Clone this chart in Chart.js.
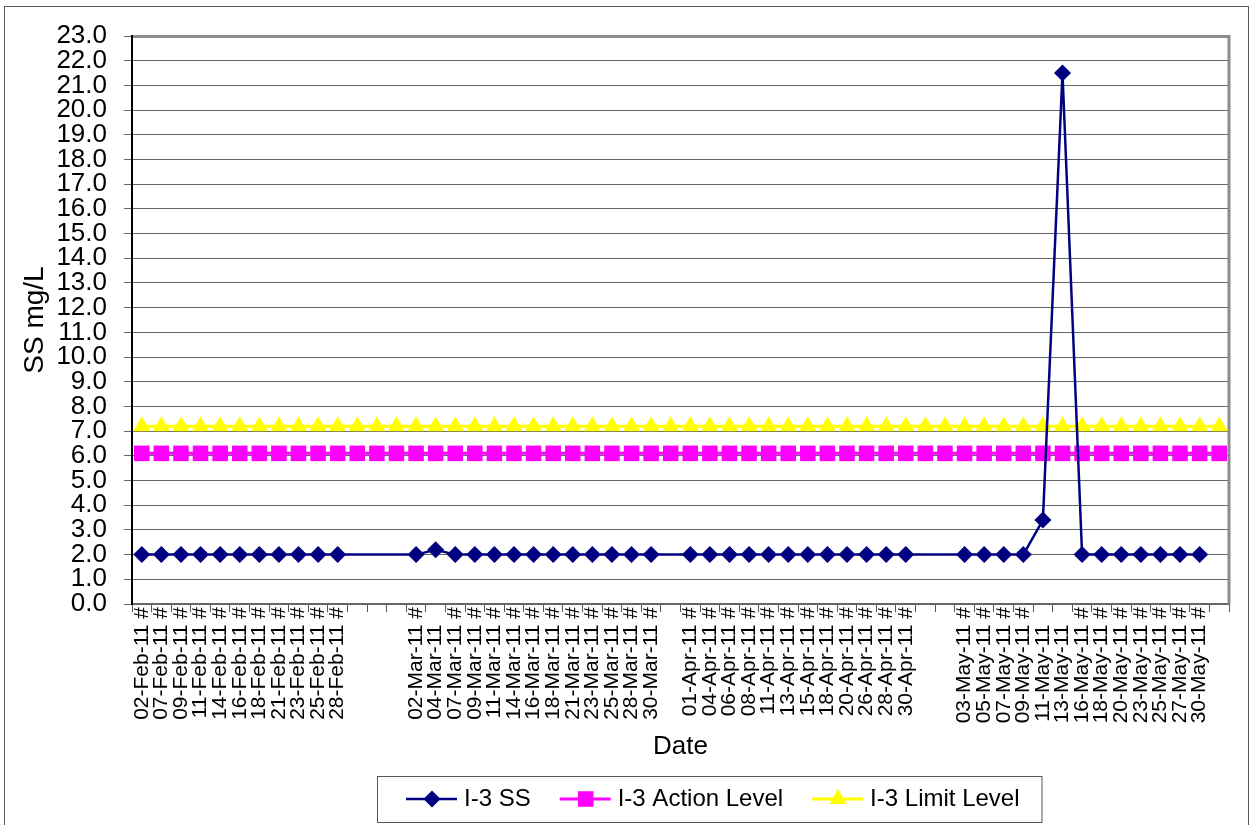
<!DOCTYPE html>
<html>
<head>
<meta charset="utf-8">
<title>I-3 SS</title>
<script src="https://cdn.jsdelivr.net/npm/chart.js@4/dist/chart.umd.min.js"></script>
<style>
    body { margin: 0; background: #fff; }
    canvas { display: block; }
</style>
</head>
<body>
<canvas id="ssChart" width="1251" height="825"></canvas>
<script>
// sampling dates (blank = no sampling, the category still exists on the axis)
const dates = [
    '02-Feb-11', '07-Feb-11', '09-Feb-11', '11-Feb-11', '14-Feb-11', '16-Feb-11',
    '18-Feb-11', '21-Feb-11', '23-Feb-11', '25-Feb-11', '28-Feb-11', '', '', '',
    '02-Mar-11', '04-Mar-11', '07-Mar-11', '09-Mar-11', '11-Mar-11', '14-Mar-11',
    '16-Mar-11', '18-Mar-11', '21-Mar-11', '23-Mar-11', '25-Mar-11', '28-Mar-11',
    '30-Mar-11', '',
    '01-Apr-11', '04-Apr-11', '06-Apr-11', '08-Apr-11', '11-Apr-11', '13-Apr-11',
    '15-Apr-11', '18-Apr-11', '20-Apr-11', '26-Apr-11', '28-Apr-11', '30-Apr-11', '', '',
    '03-May-11', '05-May-11', '07-May-11', '09-May-11', '11-May-11', '13-May-11',
    '16-May-11', '18-May-11', '20-May-11', '23-May-11', '25-May-11', '27-May-11',
    '30-May-11', ''
];

// the "#" that sits at the end of most date labels
const hashMarks = [
    '#', '#', '#', '#', '#', '#', '#', '#', '#', '#', '#', '', '', '',
    '#', '', '#', '#', '#', '#', '#', '#', '#', '#', '#', '#', '#', '',
    '#', '#', '#', '#', '#', '#', '#', '#', '#', '#', '#', '#', '', '',
    '#', '#', '#', '#', '', '', '#', '#', '#', '#', '#', '#', '#', ''
];

const ssValues = [
    2.0, 2.0, 2.0, 2.0, 2.0, 2.0, 2.0, 2.0, 2.0, 2.0, 2.0, null, null, null,
    2.0, 2.2, 2.0, 2.0, 2.0, 2.0, 2.0, 2.0, 2.0, 2.0, 2.0, 2.0, 2.0, null,
    2.0, 2.0, 2.0, 2.0, 2.0, 2.0, 2.0, 2.0, 2.0, 2.0, 2.0, 2.0, null, null,
    2.0, 2.0, 2.0, 2.0, 3.4, 21.5, 2.0, 2.0, 2.0, 2.0, 2.0, 2.0, 2.0, null
];

const actionLevel = [
    6.1, 6.1, 6.1, 6.1, 6.1, 6.1, 6.1, 6.1, 6.1, 6.1, 6.1, 6.1, 6.1, 6.1,
    6.1, 6.1, 6.1, 6.1, 6.1, 6.1, 6.1, 6.1, 6.1, 6.1, 6.1, 6.1, 6.1, 6.1,
    6.1, 6.1, 6.1, 6.1, 6.1, 6.1, 6.1, 6.1, 6.1, 6.1, 6.1, 6.1, 6.1, 6.1,
    6.1, 6.1, 6.1, 6.1, 6.1, 6.1, 6.1, 6.1, 6.1, 6.1, 6.1, 6.1, 6.1, 6.1
];

const limitLevel = [
    7.2, 7.2, 7.2, 7.2, 7.2, 7.2, 7.2, 7.2, 7.2, 7.2, 7.2, 7.2, 7.2, 7.2,
    7.2, 7.2, 7.2, 7.2, 7.2, 7.2, 7.2, 7.2, 7.2, 7.2, 7.2, 7.2, 7.2, 7.2,
    7.2, 7.2, 7.2, 7.2, 7.2, 7.2, 7.2, 7.2, 7.2, 7.2, 7.2, 7.2, 7.2, 7.2,
    7.2, 7.2, 7.2, 7.2, 7.2, 7.2, 7.2, 7.2, 7.2, 7.2, 7.2, 7.2, 7.2, 7.2
];

const yMin = 0;
const yMax = 23;
const yStep = 1;

const FONT = '"Liberation Sans", Arial, sans-serif';

// Function to build the axis labels, keeping label ends lined up when there is no "#"
function buildLabels() {
    return dates.map(function (d, i) {
        if (d === '') return '';
        return d + (hashMarks[i] ? ' ' + hashMarks[i] : '   ');
    });
}

// Function to draw a marker the same shape chart.js uses
function drawMarker(ctx, style, x, y, r, color) {
    ctx.fillStyle = color;
    ctx.beginPath();
    if (style === 'rectRot') {
        ctx.moveTo(x - r, y);
        ctx.lineTo(x, y - r);
        ctx.lineTo(x + r, y);
        ctx.lineTo(x, y + r);
    } else if (style === 'rect') {
        const s = Math.SQRT1_2 * r;
        ctx.rect(x - s, y - s, 2 * s, 2 * s);
    } else {
        ctx.moveTo(x, y - r);
        ctx.lineTo(x + Math.sin(Math.PI * 2 / 3) * r, y + r / 2);
        ctx.lineTo(x - Math.sin(Math.PI * 2 / 3) * r, y + r / 2);
    }
    ctx.closePath();
    ctx.fill();
}

// outer border + grey top/right edges of the plot
const framePlugin = {
    id: 'frame',
    afterDraw(chart) {
        const ctx = chart.ctx;
        const area = chart.chartArea;
        ctx.save();
        ctx.strokeStyle = '#5a5a5a';
        ctx.lineWidth = 1;
        ctx.strokeRect(4.5, 6.5, 1244, 830);
        ctx.strokeStyle = '#8c8c8c';
        ctx.lineWidth = 3;
        ctx.beginPath();
        ctx.moveTo(area.left + 1, area.top + 0.5);
        ctx.lineTo(area.right, area.top + 0.5);
        ctx.lineTo(area.right, area.bottom);
        ctx.stroke();
        ctx.restore();
    }
};

// boxed legend with line + marker samples
const legendPlugin = {
    id: 'boxLegend',
    afterDraw(chart) {
        const ctx = chart.ctx;
        const y = 799;
        let x = 406;
        ctx.save();
        ctx.font = '24px ' + FONT;
        ctx.textBaseline = 'middle';
        chart.data.datasets.forEach(function (ds) {
            ctx.strokeStyle = ds.borderColor;
            ctx.lineWidth = ds.borderWidth;
            ctx.beginPath();
            ctx.moveTo(x, y);
            ctx.lineTo(x + 51, y);
            ctx.stroke();
            drawMarker(ctx, ds.pointStyle, x + 26, y, ds.pointRadius, ds.pointBackgroundColor);
            ctx.fillStyle = '#000';
            ctx.fillText(ds.label, x + 58, y);
            x += 58 + ctx.measureText(ds.label).width + 29;
        });
        ctx.strokeStyle = '#555';
        ctx.lineWidth = 1;
        ctx.strokeRect(377.5, 776.5, x - 29 + 22 - 377, 46);
        ctx.restore();
    }
};

// Function to create the SS line chart
function createSSChart() {
    const ctx = document.getElementById('ssChart').getContext('2d');
    Chart.defaults.font.family = FONT;
    Chart.defaults.color = '#000';
    new Chart(ctx, {
        type: 'line',
        data: {
            labels: buildLabels(),
            datasets: [{
                label: 'I-3 SS',
                data: ssValues,
                borderColor: '#000080',
                backgroundColor: '#000080',
                pointBackgroundColor: '#000080',
                pointBorderColor: '#000080',
                pointStyle: 'rectRot',
                pointRadius: 8.5,
                pointBorderWidth: 0,
                borderWidth: 2.5,
                spanGaps: true,
                tension: 0
            }, {
                label: 'I-3 Action Level',
                data: actionLevel,
                borderColor: '#ff00ff',
                backgroundColor: '#ff00ff',
                pointBackgroundColor: '#ff00ff',
                pointBorderColor: '#ff00ff',
                pointStyle: 'rect',
                pointRadius: 11,
                pointBorderWidth: 0,
                borderWidth: 3,
                tension: 0
            }, {
                label: 'I-3 Limit Level',
                data: limitLevel,
                borderColor: '#ffff00',
                backgroundColor: '#ffff00',
                pointBackgroundColor: '#ffff00',
                pointBorderColor: '#ffff00',
                pointStyle: 'triangle',
                pointRadius: 10,
                pointBorderWidth: 0,
                borderWidth: 3,
                tension: 0
            }]
        },
        options: {
            responsive: false,
            animation: false,
            events: [],
            layout: {
                padding: { top: 36, right: 22, left: 0, bottom: 0 }
            },
            scales: {
                x: {
                    offset: true,
                    afterFit: function (scale) { scale.height = 221; },
                    grid: {
                        offset: true,
                        drawOnChartArea: false,
                        drawTicks: true,
                        tickLength: 8,
                        color: '#555'
                    },
                    border: { color: '#666', width: 2 },
                    ticks: {
                        autoSkip: false,
                        minRotation: 90,
                        maxRotation: 90,
                        padding: -5,
                        font: { size: 21 }
                    },
                    title: {
                        display: true,
                        text: 'Date',
                        font: { size: 26 },
                        padding: { top: 0, bottom: 63 }
                    }
                },
                y: {
                    min: yMin,
                    max: yMax,
                    afterFit: function (scale) { scale.width = 132; },
                    grid: {
                        color: '#666',
                        tickLength: 8
                    },
                    border: { color: '#000', width: 2 },
                    ticks: {
                        stepSize: yStep,
                        autoSkip: false,
                        padding: 17,
                        font: { size: 26 },
                        callback: function (v) { return Number(v).toFixed(1); }
                    },
                    title: {
                        display: true,
                        text: 'SS mg/L',
                        font: { size: 28 },
                        padding: { top: 18, bottom: 0 }
                    }
                }
            },
            plugins: {
                legend: { display: false },
                tooltip: { enabled: false }
            }
        },
        plugins: [framePlugin, legendPlugin]
    });
}

createSSChart();
</script>
</body>
</html>
